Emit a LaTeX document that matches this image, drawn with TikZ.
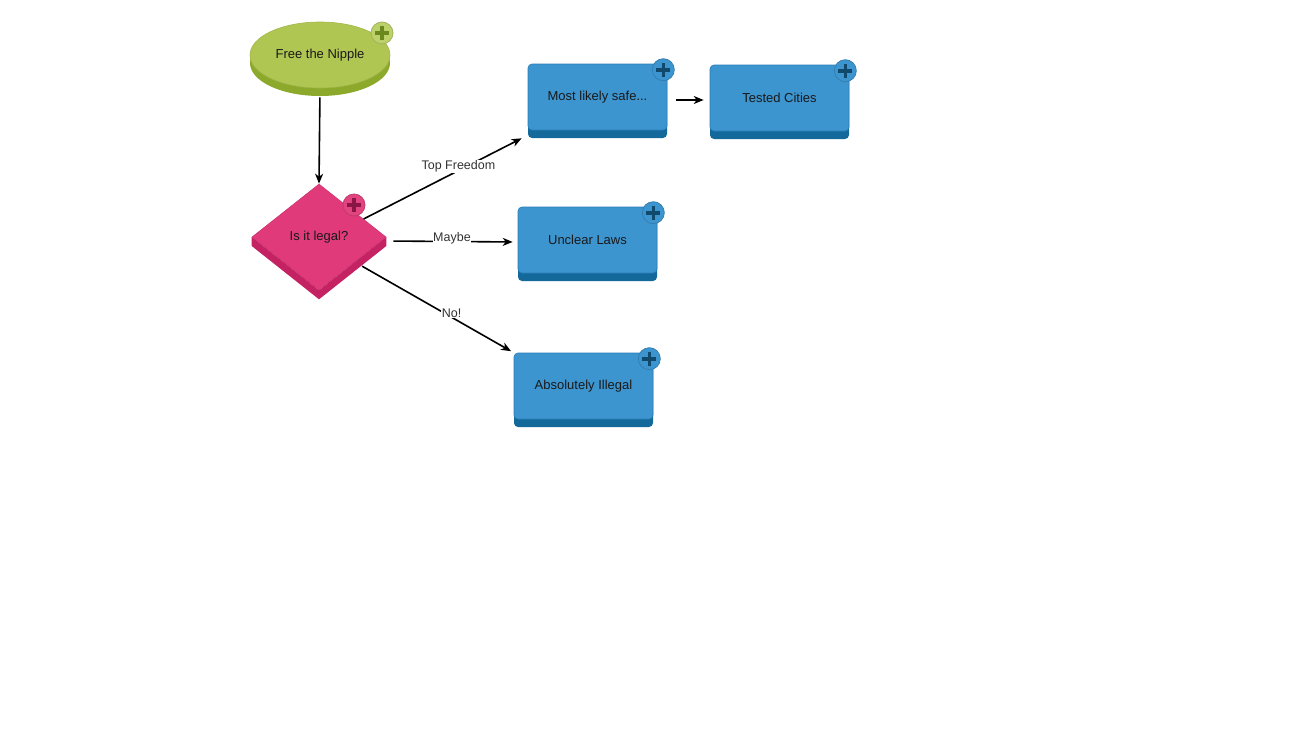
\documentclass[tikz,border=0pt]{standalone}
\usepackage{fontspec}
\setmainfont{Liberation Sans}
\usetikzlibrary{shapes.geometric,arrows.meta}

\definecolor{greentop}{HTML}{B0C652}
\definecolor{greenside}{HTML}{8DA92B}
\definecolor{greenbadge}{HTML}{BDD16A}
\definecolor{greenplus}{HTML}{6B881E}
\definecolor{pinktop}{HTML}{E03A7B}
\definecolor{pinkside}{HTML}{C52263}
\definecolor{pinkbadge}{HTML}{E2447F}
\definecolor{pinkplus}{HTML}{8A1646}
\definecolor{bluetop}{HTML}{3D95D0}
\definecolor{blueside}{HTML}{12699A}
\definecolor{blueline}{HTML}{2A7DB5}
\definecolor{blueplus}{HTML}{10496C}
\definecolor{labelgray}{HTML}{333333}

\tikzset{
	every node/.style={font=\fontsize{13}{15}\selectfont, text=black!90},
	startnode/.style={ellipse, minimum width=140pt, minimum height=66pt, fill=greentop,
		draw=greentop!92!black, line width=0.6pt,
		preaction={fill=greenside, transform canvas={yshift=-8pt}}},
	decision/.style={diamond, aspect=1.26, minimum width=134pt, minimum height=106pt,
		inner sep=0pt, fill=pinktop, draw=pinktop!92!black, line width=0.6pt},
	task/.style={rectangle, rounded corners=4pt, minimum width=139pt, minimum height=66pt,
		fill=bluetop, draw=blueline, line width=0.6pt,
		preaction={fill=blueside, transform canvas={yshift=-8pt}}},
	badge/.style 2 args={circle, minimum size=22pt, inner sep=0pt, fill=#1,
		draw=#1!85!black, line width=0.8pt,
		path picture={\draw[#2, line width=3.6pt]
			([xshift=-7pt]path picture bounding box.center) -- ([xshift=7pt]path picture bounding box.center)
			([yshift=-7pt]path picture bounding box.center) -- ([yshift=7pt]path picture bounding box.center);}},
	link/.style={-{Stealth[length=10pt,width=8pt,inset=3pt]}, line width=1.6pt, black},
	linklabel/.style={fill=white, inner sep=0.5pt, text=labelgray, font=\fontsize{12.5}{14}\selectfont},
}

\begin{document}
\begin{tikzpicture}[x=1pt, y=1pt]
	
	\useasboundingbox (0,0) rectangle (1300,-750);
	
	% shapes
	\node[startnode] (free) at (320,-55) {Free the Nipple};
	\node[decision] (legal) at (319,-237) {Is it legal?};
	\fill[pinkside] (legal.west) -- ++(0,-9) -- ([yshift=-9pt]legal.south)
	-- ([yshift=-9pt]legal.east) -- (legal.east) -- (legal.south) -- cycle;
	
	\node[task] (safe) at (597.5,-97) {Most likely safe...};
	\node[task] (tested) at (779.5,-98) {Tested Cities};
	\node[task] (unclear) at (587.5,-240) {Unclear Laws};
	\node[task] (illegal) at (583.5,-386) {Absolutely Illegal};
	
	% plus badges
	\node[badge={greenbadge}{greenplus}] (freeplus) at ([shift={(62pt,22pt)}]free.center) {};
	\node[badge={pinkbadge}{pinkplus}] (legalplus) at ([shift={(35pt,32pt)}]legal.center) {};
	\node[badge={bluetop}{blueplus}] (safeplus) at ([shift={(-4pt,-6pt)}]safe.north east) {};
	\node[badge={bluetop}{blueplus}] (testedplus) at ([shift={(-4pt,-6pt)}]tested.north east) {};
	\node[badge={bluetop}{blueplus}] (unclearplus) at ([shift={(-4pt,-6pt)}]unclear.north east) {};
	\node[badge={bluetop}{blueplus}] (illegalplus) at ([shift={(-4pt,-6pt)}]illegal.north east) {};
	
	% arrows
	\draw[link, shorten <=9pt] (free.south) -- (legal.north);
	\draw[link] (legal.22) -- ([shift={(-6pt,-8pt)}]safe.south west)
	node[linklabel, pos=0.6, yshift=4pt] {Top Freedom};
	\draw[link, shorten <=7pt, shorten >=5pt] ([yshift=-4pt]legal.east) -- ([yshift=-2pt]unclear.west)
	node[linklabel, pos=0.5, yshift=3pt] {Maybe};
	\draw[link, shorten >=3pt] ([yshift=-10pt]legal.-24) -- (illegal.north west)
	node[linklabel, pos=0.59, yshift=4pt] {No!};
	\draw[link, shorten <=9pt, shorten >=6pt] ([yshift=-3pt]safe.east) -- ([yshift=-2pt]tested.west);
	
\end{tikzpicture}
\end{document}
